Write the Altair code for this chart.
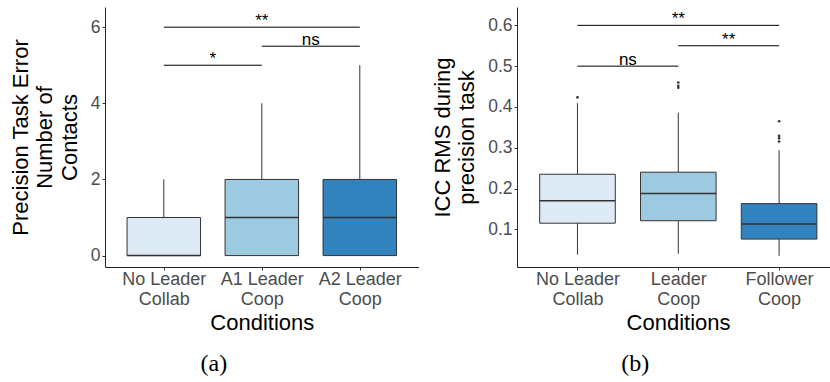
import json
import altair as alt
import pandas as pd

# ---------------- Panel (a) data ----------------
cond_a = [["No Leader", "Collab"], ["A1 Leader", "Coop"], ["A2 Leader", "Coop"]]
a_lower = [0, 0, 0]
a_q1 = [0, 0, 0]
a_median = [0, 1, 1]
a_q3 = [1, 2, 2]
a_upper = [2, 4, 5]
a_out_group = []
a_out_value = []
sig_a_from = [1, 2, 1]
sig_a_to = [2, 3, 3]
sig_a_y = [5.0, 5.5, 6.0]
sig_a_label = ["*", "ns", "**"]

# ---------------- Panel (b) data ----------------
cond_b = [["No Leader", "Collab"], ["Leader", "Coop"], ["Follower", "Coop"]]
b_lower = [0.038, 0.040, 0.035]
b_q1 = [0.115, 0.121, 0.076]
b_median = [0.170, 0.188, 0.113]
b_q3 = [0.235, 0.240, 0.163]
b_upper = [0.409, 0.386, 0.294]
b_out_group = [1, 2, 2, 2, 3, 3, 3, 3]
b_out_value = [0.4235, 0.460, 0.452, 0.447, 0.365, 0.329, 0.323, 0.315]
sig_b_from = [1, 2, 1]
sig_b_to = [2, 3, 3]
sig_b_y = [0.50, 0.55, 0.60]
sig_b_label = ["ns", "**", "**"]

fills = ["#DEEBF7", "#9ECAE1", "#3182BD"]

FONT = "Liberation Sans"
HALF = 0.375


def panel(cond, lower, q1, med, q3, upper, out_g, out_v, s_from, s_to, s_y, s_lab,
          ydom, yvals, yfmt, ytitle, xdom, width, caption, xtitle_x=None, cap_dx=0):
    pos = [1, 2, 3]
    names = [" ".join(c) for c in cond]
    box = pd.DataFrame({
        "pos": pos, "cond": names, "lower": lower, "q1": q1, "median": med,
        "q3": q3, "upper": upper, "fill": fills,
        "left": [p - HALF for p in pos], "right": [p + HALF for p in pos],
    })
    outl = pd.DataFrame({"pos": out_g, "value": out_v})
    sig = pd.DataFrame({"from": s_from, "to": s_to, "y": s_y, "label": s_lab,
                        "mid": [(a + b) / 2 for a, b in zip(s_from, s_to)]})

    xs = alt.Scale(domain=xdom, nice=False, zero=False)
    ys = alt.Scale(domain=ydom, nice=False, zero=False)
    label_expr = json.dumps(cond).replace('"', "'") + "[datum.value - 1]"
    xaxis_kw = dict(
        title="Conditions", values=[1, 2, 3], labelExpr=label_expr, grid=False,
        domainColor="#222222", tickColor="#333333", tickSize=3,
        labelColor="#4D4D4D", labelFont=FONT, labelFontSize=18, labelLineHeight=20,
        labelPadding=0, titleFont=FONT, titleFontSize=22, titleFontWeight="normal",
        titleColor="black", titlePadding=4,
    )
    if xtitle_x is not None:
        xaxis_kw["titleX"] = xtitle_x
    xaxis = alt.Axis(**xaxis_kw)
    yaxis = alt.Axis(
        title=ytitle, values=yvals, format=yfmt, grid=False,
        domainColor="#222222", tickColor="#333333", tickSize=3,
        labelColor="#4D4D4D", labelFont=FONT, labelFontSize=17.5, labelPadding=2,
        titleFont=FONT, titleFontSize=22, titleFontWeight="normal", titleColor="black",
        titleLineHeight=24.5, titlePadding=9,
    )

    def X(f):
        return alt.X(f, type="quantitative", scale=xs, axis=xaxis)

    def Y(f):
        return alt.Y(f, type="quantitative", scale=ys, axis=yaxis)

    base = alt.Chart(box)
    wh_up = base.mark_rule(color="#333333", strokeWidth=1).encode(x=X("pos"), y=Y("q3"), y2="upper")
    wh_lo = base.mark_rule(color="#333333", strokeWidth=1).encode(x=X("pos"), y=Y("lower"), y2="q1")
    boxes = base.mark_bar(stroke="#333333", strokeWidth=1).encode(
        x=X("left"), x2="right", y=Y("q1"), y2="q3",
        fill=alt.Fill("fill:N", scale=None),
    )
    medians = base.mark_rule(color="#333333", strokeWidth=1.5).encode(
        x=X("left"), x2="right", y=Y("median"))
    layers = [wh_up, wh_lo, boxes, medians]
    if len(out_v):
        layers.append(alt.Chart(outl).mark_circle(size=7, color="#333333", opacity=1).encode(
            x=X("pos"), y=Y("value")))
    sbase = alt.Chart(sig)
    layers.append(sbase.mark_rule(color="black", strokeWidth=1).encode(x=X("from"), x2="to", y=Y("y")))
    layers.append(sbase.mark_text(font=FONT, fontSize=17, color="black", baseline="alphabetic",
                                  dy=-1).encode(x=X("mid"), y=Y("y"), text="label:N"))
    return alt.layer(*layers).properties(
        width=width, height=260,
        title=alt.TitleParams(text=caption, orient="bottom", font="Liberation Serif",
                              fontSize=24, fontWeight="normal", color="black",
                              frame="bounds", anchor="middle", offset=19, dx=cap_dx),
    )


pa = panel(cond_a, a_lower, a_q1, a_median, a_q3, a_upper, a_out_group, a_out_value,
           sig_a_from, sig_a_to, sig_a_y, sig_a_label,
           [-0.3, 6.53], [0, 2, 4, 6], "d",
           ["Precision Task Error", "Number of", "Contacts"],
           [0.4, 3.6], 313.6, "(a)")
pb = panel(cond_b, b_lower, b_q1, b_median, b_q3, b_upper, b_out_group, b_out_value,
           sig_b_from, sig_b_to, sig_b_y, sig_b_label,
           [0.0076, 0.645], [0.1, 0.2, 0.3, 0.4, 0.5, 0.6], ".1f",
           ["ICC RMS during", "precision task"],
           [0.4, 3.5], 312.5, "(b)", xtitle_x=161, cap_dx=5)

chart = alt.hconcat(pa, pb, spacing=12).properties(
    padding={"left": 9, "top": 7, "right": 0, "bottom": 0}
).configure_view(stroke=None)

chart.save("out.html", embed_options={"renderer": "svg", "actions": False})
